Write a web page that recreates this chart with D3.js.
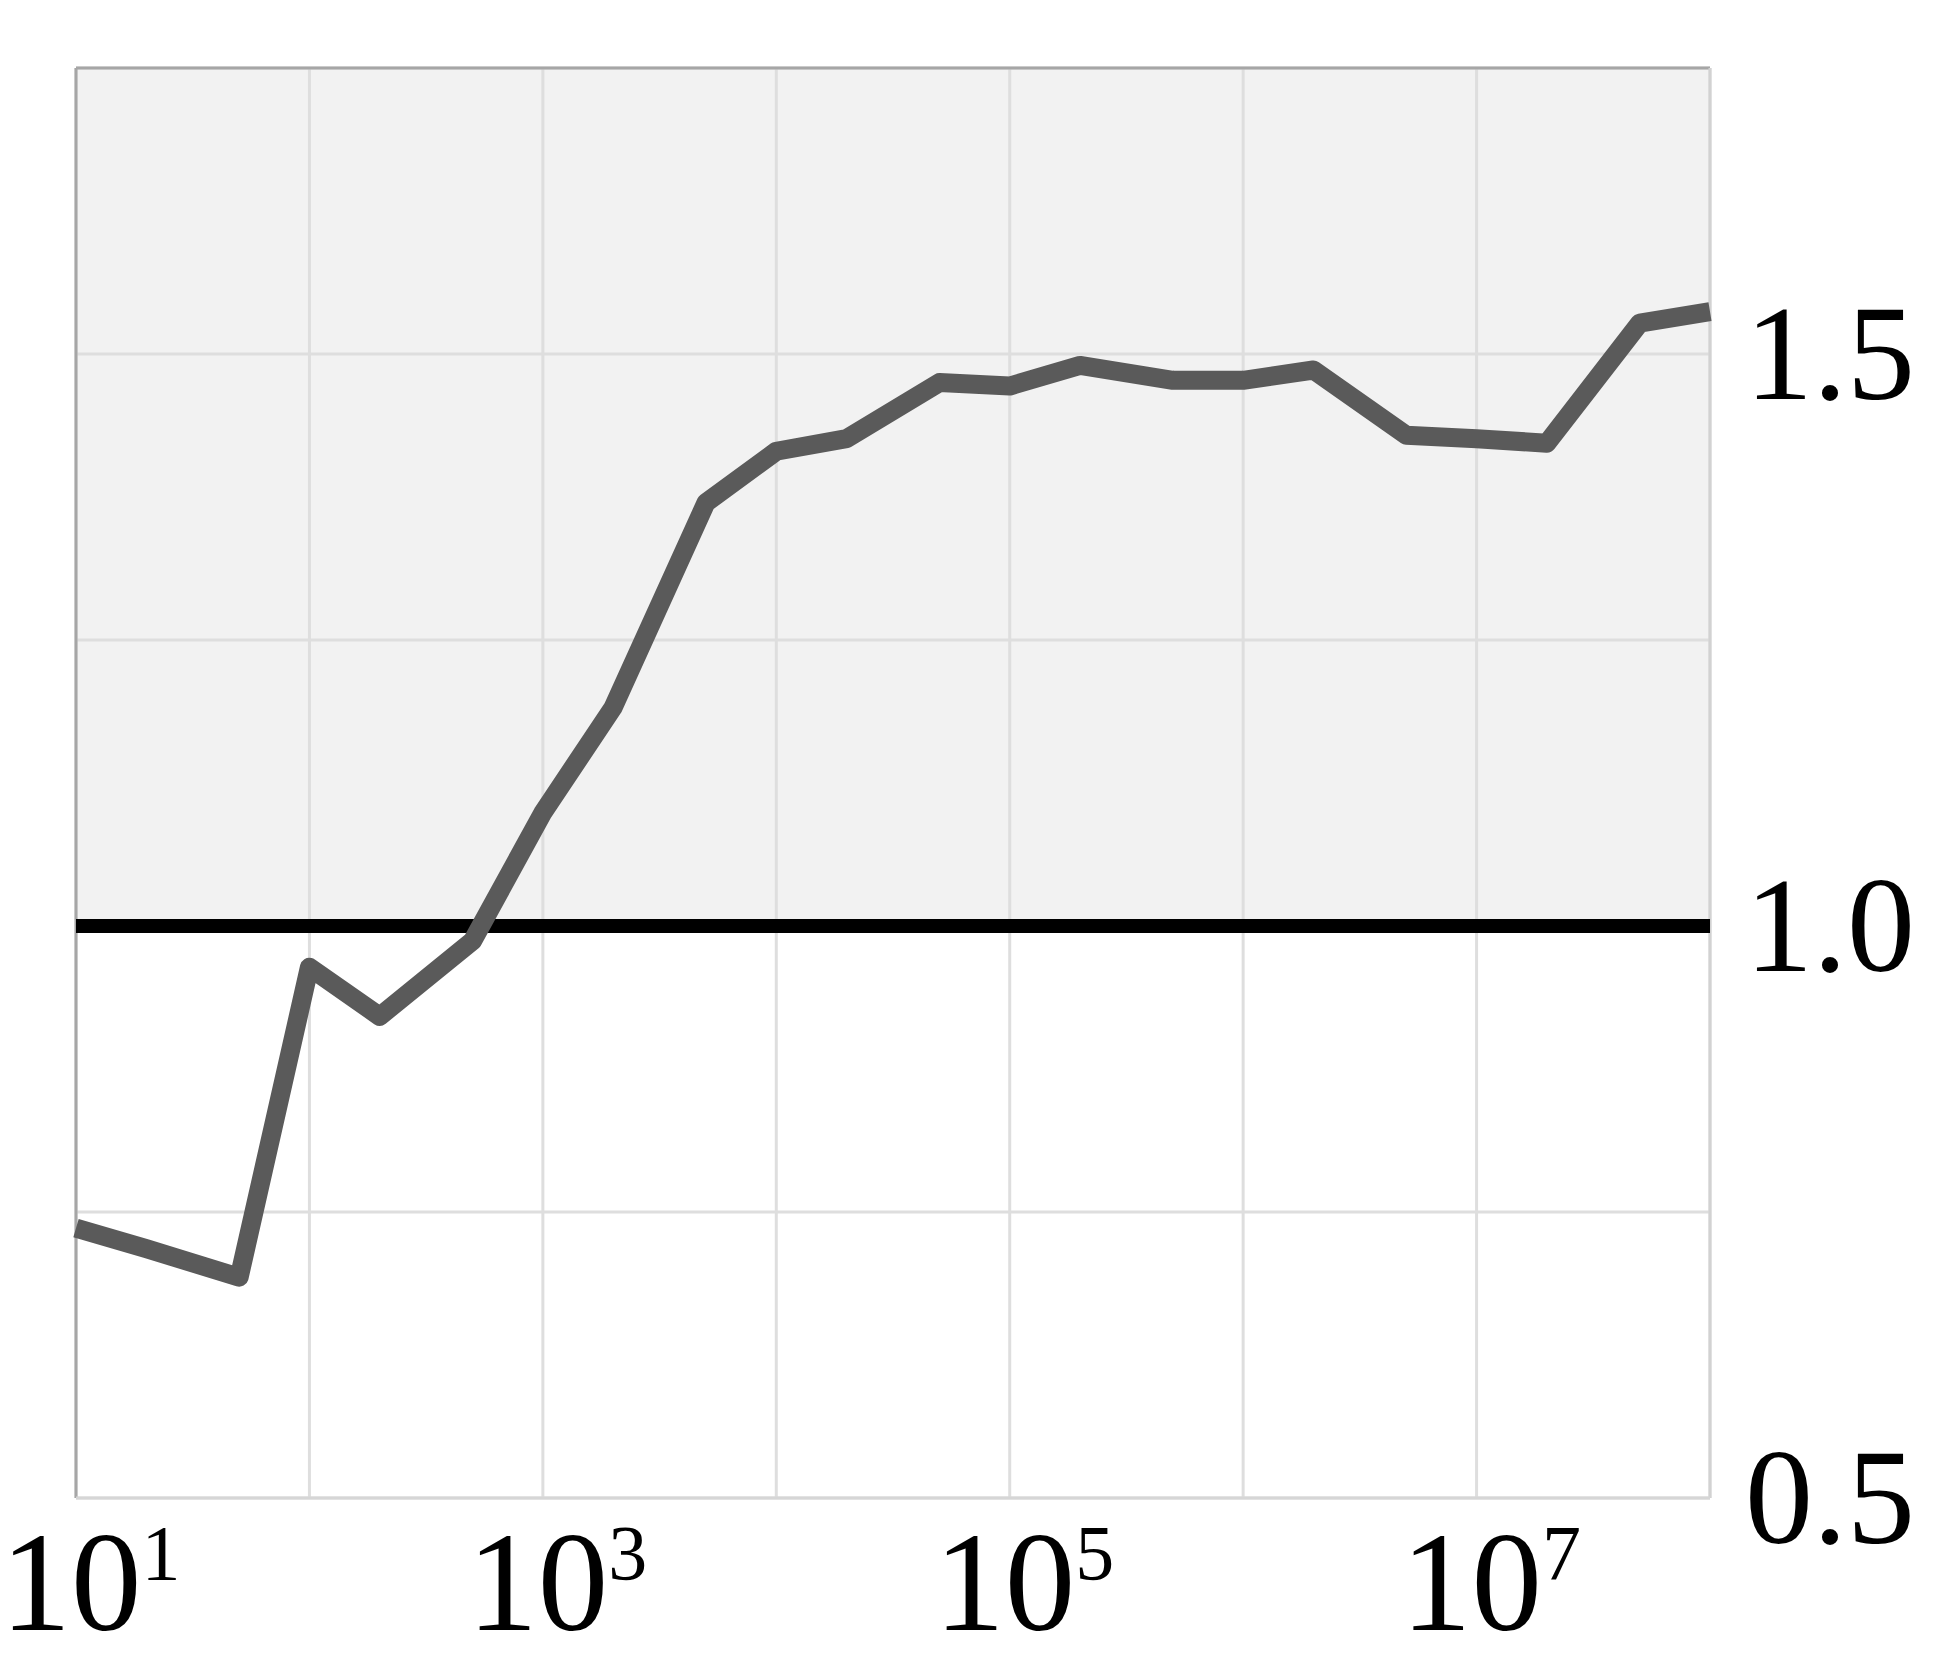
<html>
<head>
	<title>ratio vs size</title>
	<meta charset="utf-8">
	<script src="https://d3js.org/d3.v7.min.js"></script>
	<style>
		body { margin: 0; background: #ffffff; }
	</style>
</head>
<body>

	<script type="text/javascript">
		var width = 1941
		var height = 1662

		// data
		var sizes = [10, 20, 50, 100, 200, 500, 1e3, 2e3, 5e3, 1e4, 2e4, 5e4, 1e5, 2e5, 5e5, 1e6, 2e6, 5e6, 1e7, 2e7, 5e7, 1e8]
		var ratios = [0.736, 0.718, 0.693, 0.964, 0.921, 0.987, 1.099, 1.191, 1.370, 1.415, 1.426, 1.475, 1.472, 1.490, 1.477, 1.477, 1.486, 1.429, 1.426, 1.422, 1.527, 1.537]
		var xGrid = [10, 1e2, 1e3, 1e4, 1e5, 1e6, 1e7, 1e8]
		var xLabelExps = [1, 3, 5, 7]
		var yGrid = [0.5, 0.75, 1.0, 1.25, 1.5, 1.75]
		var yLabels = [0.5, 1.0, 1.5]
		var refValue = 1.0

		// note: "top" is taken by window.top, so use plot* names
		var plotL = 76, plotR = 1710, plotT = 68, plotB = 1498
		var font = "'Liberation Serif', 'Times New Roman', serif"

		var svg = d3.select("body").append("svg")
		  .attr("width", width)
		  .attr("height", height)

		var x = d3.scaleLog().domain([10, 1e8]).range([plotL, plotR])
		var y = d3.scaleLinear().domain([0.5, 1.75]).range([plotB, plotT])

		// shaded band above the reference line
		svg.append("rect")
			.attr("x", plotL)
			.attr("y", y(1.75))
			.attr("width", plotR - plotL)
			.attr("height", y(refValue) - y(1.75))
			.attr("fill", "#f2f2f2")

		svg.selectAll(".vgrid")
			.data(xGrid)
			.enter()
			.append("line")
				.attr("x1", d => x(d))
				.attr("x2", d => x(d))
				.attr("y1", plotT)
				.attr("y2", plotB)
				.attr("stroke", "#dedede")
				.attr("stroke-width", 3)

		svg.selectAll(".hgrid")
			.data(yGrid)
			.enter()
			.append("line")
				.attr("x1", plotL)
				.attr("x2", plotR)
				.attr("y1", d => y(d))
				.attr("y2", d => y(d))
				.attr("stroke", "#dedede")
				.attr("stroke-width", 3)

		// frame: darker on left/top, lighter on right/bottom
		svg.append("line").attr("x1", plotL).attr("x2", plotL).attr("y1", plotT).attr("y2", plotB)
			.attr("stroke", "#a6a6a6").attr("stroke-width", 3)
		svg.append("line").attr("x1", plotL).attr("x2", plotR).attr("y1", plotT).attr("y2", plotT)
			.attr("stroke", "#a6a6a6").attr("stroke-width", 3)
		svg.append("line").attr("x1", plotR).attr("x2", plotR).attr("y1", plotT).attr("y2", plotB)
			.attr("stroke", "#d2d2d2").attr("stroke-width", 3)
		svg.append("line").attr("x1", plotL).attr("x2", plotR).attr("y1", plotB).attr("y2", plotB)
			.attr("stroke", "#d6d6d6").attr("stroke-width", 3)

		// reference line at 1.0
		svg.append("line")
			.attr("x1", plotL)
			.attr("x2", plotR)
			.attr("y1", y(refValue))
			.attr("y2", y(refValue))
			.attr("stroke", "#000000")
			.attr("stroke-width", 14)

		var line = d3.line()
			.x((d, i) => x(sizes[i]))
			.y(d => y(d))

		svg.append("path")
			.datum(ratios)
			.attr("d", line)
			.attr("fill", "none")
			.attr("stroke", "#5a5a5a")
			.attr("stroke-width", 19)
			.attr("stroke-linejoin", "round")
			.attr("stroke-linecap", "butt")

		// y labels on the right
		var yAxis = svg.append("g")
			.attr("transform", "translate(" + plotR + ",0)")
			.call(d3.axisRight(y).tickValues(yLabels).tickSize(0).tickPadding(35).tickFormat(d3.format(".1f")))
		yAxis.select(".domain").remove()
		yAxis.selectAll("text")
			.attr("font-family", font)
			.attr("font-size", 136)
			.attr("fill", "#000")
			.attr("dy", "0.33em")

		// x labels as powers of ten: base and exponent as separate texts
		var xAxis = svg.append("g")
			.attr("transform", "translate(0," + plotB + ")")
			.call(d3.axisBottom(x).tickValues(xLabelExps.map(e => Math.pow(10, e))).tickSize(0).tickFormat(""))
		xAxis.attr("text-anchor", "start")
		xAxis.select(".domain").remove()
		xAxis.selectAll(".tick text").remove()
		var ticks = xAxis.selectAll(".tick")
		ticks.append("text")
			.attr("font-family", font)
			.attr("font-size", 141)
			.attr("fill", "#000")
			.attr("text-anchor", "start")
			.attr("x", -76)
			.attr("y", 132)
			.text("10")
		ticks.append("text")
			.attr("font-family", font)
			.attr("font-size", 78)
			.attr("fill", "#000")
			.attr("text-anchor", "start")
			.attr("x", -76 + 141)
			.attr("y", 81)
			.text((d, i) => xLabelExps[i])

	</script>
</body>
</html>
